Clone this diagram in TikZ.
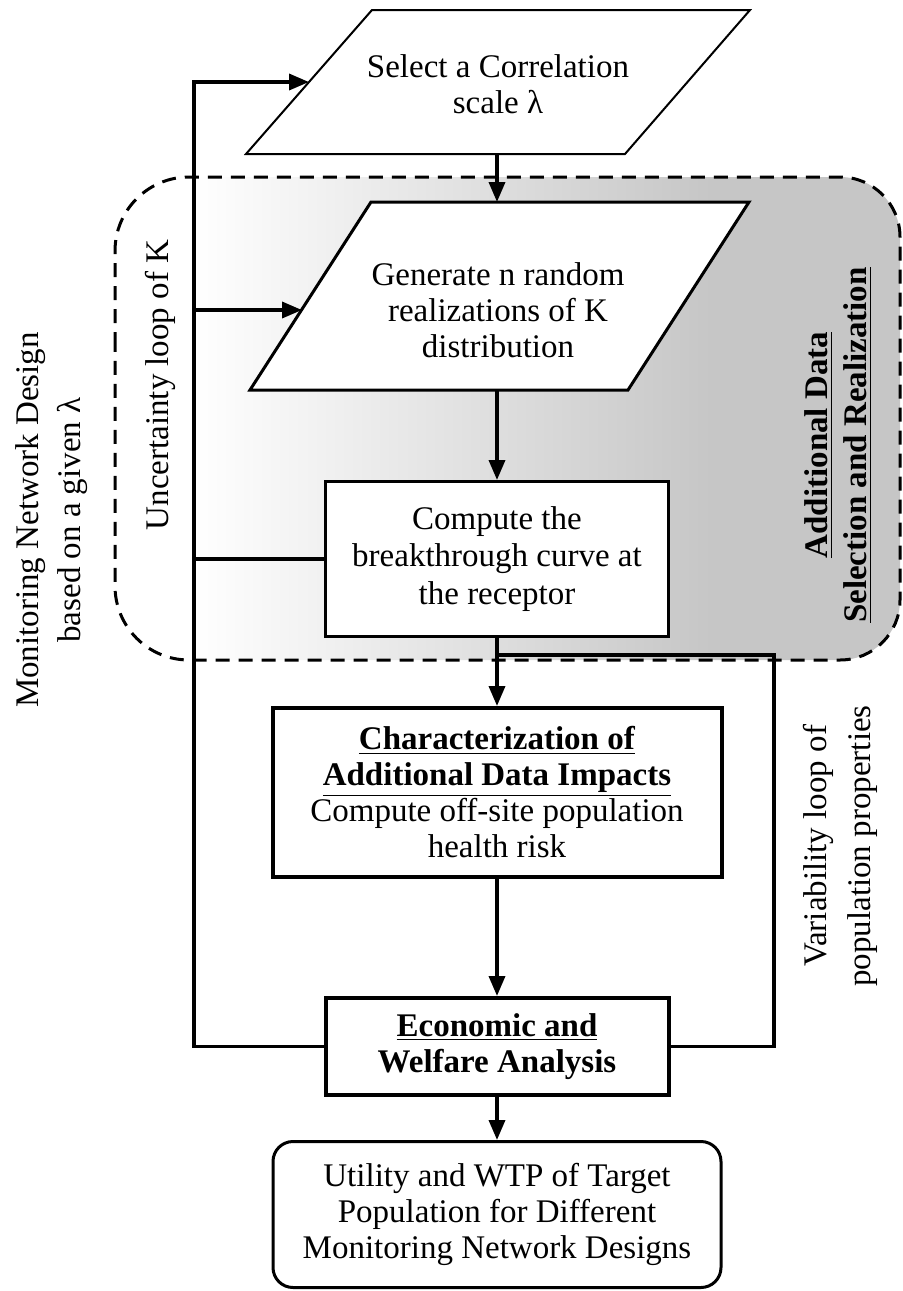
\documentclass[tikz,border=0pt]{standalone}
\usepackage{fontspec}
\setmainfont{Liberation Serif}
\usetikzlibrary{arrows.meta}
\definecolor{shgray}{HTML}{C6C6C6}
\pgfdeclarehorizontalshading{regshade}{100bp}{color(0bp)=(white); color(30bp)=(white); color(63bp)=(shgray); color(100bp)=(shgray)}
\begin{document}
\begin{tikzpicture}[x=0.5pt,y=-0.5pt,
  txt/.style={font=\fontsize{16.5pt}{18pt}\selectfont, align=center},
  flowbox/.style={draw, line width=1.5pt, fill=white, inner sep=0pt, txt},
  thickbox/.style={flowbox, line width=2pt},
  conn/.style={line width=1.75pt},
  arr/.style={conn, -{Triangle[length=10pt,width=8pt]}},
  region/.style={dashed, dash pattern=on 7pt off 4.5pt, line width=1.5pt},
  sidelabel/.style={txt, rotate=90, inner sep=0pt}
]
\useasboundingbox (0,0) rectangle (902,1291);

% shaded dashed region (left corners rounder than right ones)
\path[shading=regshade]
  (115,420) [rounded corners=37pt] -- (115,177) -- (500,177)
  [rounded corners=30pt] -- (900,177) -- (900,660) -- (500,660)
  [rounded corners=37pt] -- (115,660) -- cycle;
\draw[region]
  (115,420) [rounded corners=37pt] -- (115,177) -- (500,177)
  [rounded corners=30pt] -- (900,177) -- (900,660) -- (500,660)
  [rounded corners=37pt] -- (115,660) -- cycle;

% top parallelogram
\draw[line width=1pt, fill=white] (372,10) -- (750,10) -- (625,154) -- (246,154) -- cycle;
\node[txt, inner sep=0pt] (sel) at (498,84) {Select a Correlation\\scale λ};
\coordinate (p1bot) at (497,154);
\coordinate (p1in) at (309,82);

% second parallelogram
\draw[line width=1.5pt, fill=white] (371,202) -- (749,202) -- (628,390) -- (250,390) -- cycle;
\node[txt, inner sep=0pt] (gen) at (498,310) {Generate n random\\realizations of K\\distribution};
\coordinate (p2top) at (497,202);
\coordinate (p2bot) at (497,390);
\coordinate (p2in) at (302,310);

% boxes
\node[flowbox, minimum width=171.5pt, minimum height=77.5pt,
      font=\fontsize{16.5pt}{18.75pt}\selectfont] (calc) at (497,559)
  {Compute the\\breakthrough curve at\\the receptor};
\node[thickbox, minimum width=224.5pt, minimum height=84.5pt] (char) at (497,792.5)
  {\underline{\textbf{Characterization of}}\\\underline{\textbf{Additional Data Impacts}}\\Compute off-site population\\health risk};
\node[thickbox, minimum width=171.5pt, minimum height=48.5pt] (econ) at (497,1046.5)
  {\underline{\textbf{Economic and}}\\\textbf{Welfare Analysis}};
\node[flowbox, rounded corners=10pt, minimum width=224pt, minimum height=73pt] (util) at (497,1214.5)
  {Utility and WTP of Target\\Population for Different\\Monitoring Network Designs};

% main flow
\draw[arr] (p1bot) -- (p2top);
\draw[arr] (p2bot) -- (calc.north);
\draw[arr] (calc.south) -- (char.north);
\draw[arr] (char.south) -- (econ.north);
\draw[arr] (econ.south) -- (util.north);

% left loops
\coordinate (lcorner) at (194,82);
\coordinate (lmid) at (194,310);
\draw[arr] (econ.west) -| (lcorner) -- (p1in);
\draw[arr] (lmid) -- (p2in);
\draw[conn] (calc.west) -- (calc.west -| lcorner);

% right loop
\coordinate (br) at (497,655);
\coordinate (rtop) at (774,655);
\draw[conn] (br) -- (rtop) |- (econ.east);

% side labels
\node[sidelabel, font=\fontsize{16.5pt}{21pt}\selectfont] (mon) at (52,520) {Monitoring Network Design\\based on a given λ};
\node[sidelabel] (unc) at (160,385) {Uncertainty loop of K};
\node[sidelabel, font=\fontsize{16.5pt}{19.5pt}\selectfont] (add) at (838,445) {\underline{\textbf{Additional Data}}\\\underline{\textbf{Selection and Realization}}};
\node[sidelabel, font=\fontsize{16.5pt}{22pt}\selectfont] (var) at (840,846) {Variability loop of\\population properties};
\end{tikzpicture}
\end{document}
